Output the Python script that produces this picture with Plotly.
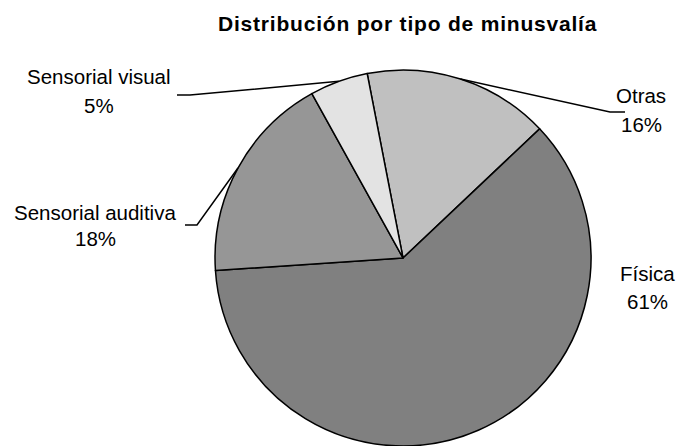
import math
import plotly.graph_objects as go

# Distribution by disability type (percent)
categories = ["Otras", "Física", "Sensorial auditiva", "Sensorial visual"]
values = [16, 61, 18, 5]
colors = ["#c0c0c0", "#808080", "#969696", "#e3e3e3"]

W, H = 685, 446
ROTATION = -11  # start angle of the first slice, clockwise from 12 o'clock

# pie domain (paper fractions)
dom_x = [0.3139, 0.8628]
dom_y = [0.0, 0.843]

fig = go.Figure(go.Pie(
    labels=categories,
    values=values,
    sort=False,
    direction="clockwise",
    rotation=ROTATION,
    marker=dict(colors=colors, line=dict(color="black", width=1.5)),
    textinfo="none",
    hoverinfo="label+percent",
    domain=dict(x=dom_x, y=dom_y),
    showlegend=False,
))

# geometry of the pie in pixels, used for leader lines
cx = (dom_x[0] + dom_x[1]) / 2 * W
cy = (1 - (dom_y[0] + dom_y[1]) / 2) * H
r = min((dom_x[1] - dom_x[0]) * W, (dom_y[1] - dom_y[0]) * H) / 2

total = sum(values)
mid_pts = []
acc = 0
for v in values:
    ang = math.radians(ROTATION + (acc + v / 2) / total * 360)
    mid_pts.append((cx + r * math.sin(ang), cy - r * math.cos(ang)))
    acc += v

def px(x, y):
    return x / W, 1 - y / H

# label placement: (name center x, name center y, percent center y)
label_pos = {
    "Otras": (641, 96, 124),
    "Física": (647, 273, 301),
    "Sensorial auditiva": (95, 212, 238),
    "Sensorial visual": (99, 77, 105),
}
# leader line: elbow point and end of the short horizontal tick
leaders = {
    "Otras": ((610, 112), (625, 112)),
    "Sensorial auditiva": ((197, 225), (185, 225)),
    "Sensorial visual": ((190, 95), (177, 95)),
}

font_lbl = dict(family="Liberation Sans, Arial, sans-serif", size=20.5, color="black")
annotations = []
shapes = []
for cat, v, mp in zip(categories, values, mid_pts):
    lx, ly1, ly2 = label_pos[cat]
    for txt, ly in ((cat, ly1), (f"{v}%", ly2)):
        ax, ay = px(lx, ly)
        annotations.append(dict(x=ax, y=ay, xref="paper", yref="paper",
                                text=txt, showarrow=False, font=font_lbl,
                                xanchor="center", yanchor="middle"))
    if cat in leaders:
        (ex, ey), (tx, ty) = leaders[cat]
        pts = [mp, (ex, ey), (tx, ty)]
        path = "M " + " L ".join(f"{px(x, y)[0]},{px(x, y)[1]}" for x, y in pts)
        shapes.append(dict(type="path", path=path, xref="paper", yref="paper",
                           line=dict(color="black", width=1.5)))

annotations.append(dict(
    x=407 / W, y=1 - 23 / H, xref="paper", yref="paper",
    text='<span style="letter-spacing:0.8px"><b>Distribución por tipo de minusvalía</b></span>',
    showarrow=False, xanchor="center", yanchor="middle",
    font=dict(family="Liberation Sans, Arial, sans-serif", size=21, color="black")))

fig.update_layout(
    width=W, height=H,
    margin=dict(l=0, r=0, t=0, b=0),
    paper_bgcolor="white",
    plot_bgcolor="white",
    annotations=annotations,
    shapes=shapes,
)

fig.write_html("out.html")
